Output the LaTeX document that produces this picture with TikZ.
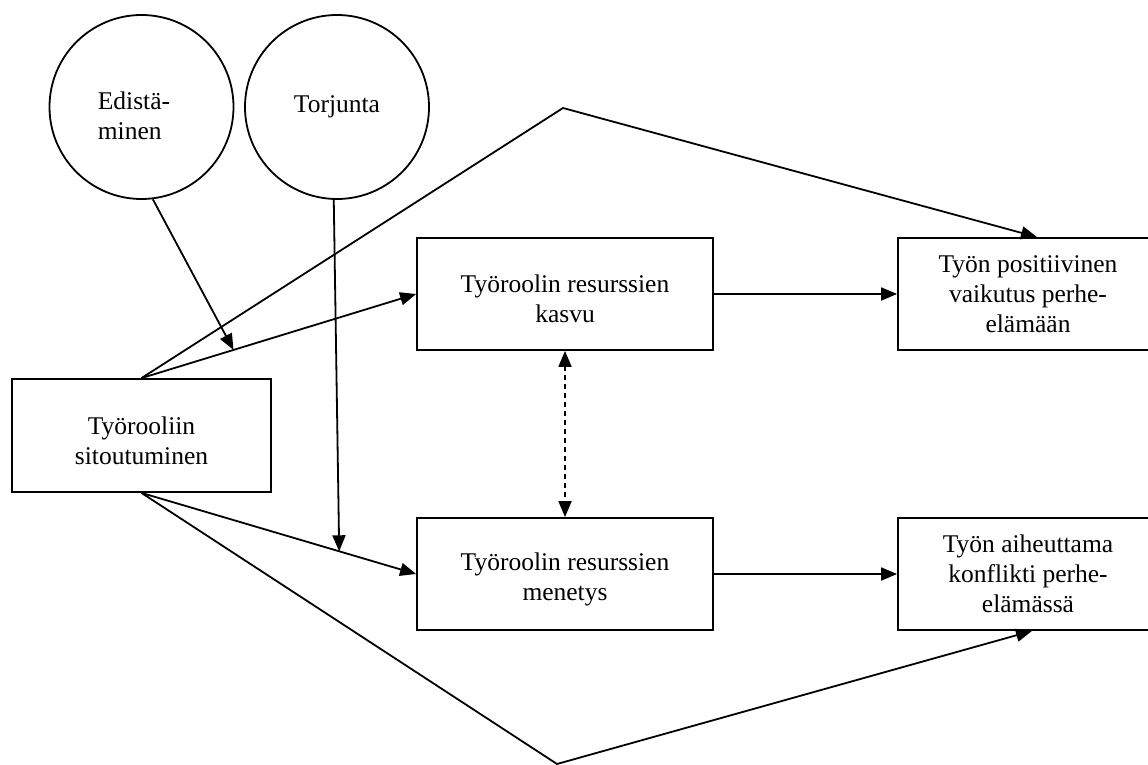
\documentclass[tikz,border=0pt]{standalone}
\usepackage{fontspec}
\setmainfont{Liberation Serif}
\usetikzlibrary{arrows.meta,calc}
\begin{document}
\begin{tikzpicture}[x=1pt,y=-1pt,
  line width=1.8pt,
  every node/.style={font=\fontsize{25.5}{30}\selectfont, align=center},
  boxnode/.style={draw, rectangle, inner sep=0pt},
  lowtext/.style={text height=58pt},
  ringnode/.style={draw, circle, minimum size=184pt, inner sep=0pt},
  arr/.style={-{Triangle[length=16pt,width=13pt]}},
  dblarr/.style={{Triangle[length=16pt,width=13pt]}-{Triangle[length=16pt,width=13pt]}, dash pattern=on 5pt off 4pt}]
\useasboundingbox (0,0) rectangle (1148,765);
\begin{scope}
\clip (0,0) rectangle (1148,765);

% circles
\node[ringnode] (e) at (141.5,107) {};
\node[align=left] (etext) at (134,116) {Edistä-\\minen};
\node[ringnode] (t) at (337,107) {Torjunta};

% boxes (two-line text sits a little below the middle)
\node[boxnode, lowtext, minimum width=259pt, minimum height=113pt] (s) at (141.5,435.5) {Työrooliin\\sitoutuminen};
\node[boxnode, lowtext, minimum width=296pt, minimum height=112pt] (k) at (565,294) {Työroolin resurssien\\kasvu};
\node[boxnode, lowtext, minimum width=296pt, minimum height=112pt] (m) at (565,574) {Työroolin resurssien\\menetys};
\node[boxnode, minimum width=260pt, minimum height=112pt] (p) at (1028,294) {Työn positiivinen\\vaikutus perhe-\\elämään};
\node[boxnode, minimum width=260pt, minimum height=112pt] (c) at (1028,574) {Työn aiheuttama\\konflikti perhe-\\elämässä};

% bend points of the long routes
\coordinate (topbend) at (563,108);
\coordinate (botbend) at (557,764);

% moderator targets on the two lines leaving the commitment box
\coordinate (kmid) at ($(s.north)!0.335!(k.west)$);
\coordinate (mmid) at ($(s.south)!0.72!(m.west)$);

% connectors
\draw[arr] (s.north) -- (k.west);
\draw[arr] (s.south) -- (m.west);
\draw[arr] (e.-83) -- (kmid);
\draw[arr] (t.-92) -- (mmid);
\draw[arr] (k.east) -- (p.west);
\draw[arr] (m.east) -- (c.west);
\draw[dblarr] (k.south) -- (m.north);
\draw[arr] (s.north) -- (topbend) -- ([xshift=9pt]p.north);
\draw[arr] (s.south) -- (botbend) -- ([xshift=4pt]c.south);
\end{scope}
\end{tikzpicture}
\end{document}
